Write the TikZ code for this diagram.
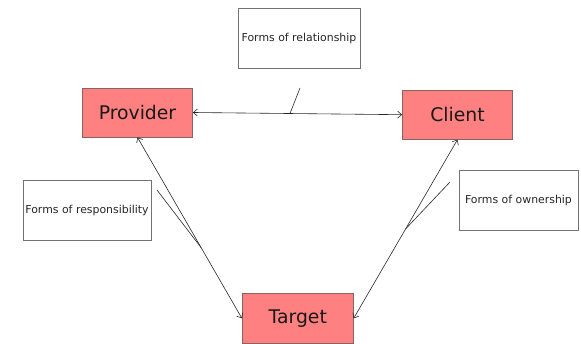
\documentclass[tikz,border=0pt]{standalone}
\usepackage{fontspec}
\setmainfont{DejaVu Sans}
\usetikzlibrary{arrows.meta}
\definecolor{rolefill}{RGB}{255,128,128}
\definecolor{roleedge}{RGB}{135,100,100}
\definecolor{linkgray}{RGB}{40,40,40}

\tikzset{
  role/.style={draw=roleedge, fill=rolefill, line width=0.8pt, minimum width=110pt, minimum height=49pt,
    inner sep=0pt, text=black!90, font=\fontsize{18.8}{22}\selectfont},
  notebox/.style={draw=black!55, line width=0.8pt, minimum height=60pt, inner sep=0pt,
    text=black!85, font=\fontsize{10.9}{13}\selectfont},
  link/.style={draw=linkgray, line width=0.6pt, {Straight Barb[length=4pt,width=7pt]}-{Straight Barb[length=4pt,width=7pt]}},
  tie/.style={draw=linkgray, line width=0.6pt}
}

\begin{document}
\begin{tikzpicture}[x=1pt, y=-1pt]
  \useasboundingbox (0,0) rectangle (581,344);

  \node[role] (provider) at (137.5, 112.5) {Provider};
  \node[role] (client) at (457.5, 114.7) {Client};
  \node[role, minimum width=111pt, minimum height=50pt] (target) at (297.8, 318.3) {Target};

  \node[notebox, minimum width=122pt] (relation) at (299, 38.5) {Forms of relationship};
  \node[notebox, minimum width=128pt] (respons) at (87, 210) {Forms of responsibility};
  \node[notebox, minimum width=119pt] (owner) at (518.5, 200) {Forms of ownership};

  \coordinate (reltop) at (300, 88);
  \coordinate (resptop) at (157, 190);
  \coordinate (owntop) at (450, 182);

  \draw[link] (provider.east) -- coordinate[pos=0.464] (relfoot) (client.west);
  \draw[link] (provider.south) -- coordinate[pos=0.61] (respfoot) (target.west);
  \draw[link] (client.south) -- coordinate[pos=0.5] (ownfoot) (target.east);

  % pointers from the notes
  \draw[tie] (reltop) -- (relfoot);
  \draw[tie] (resptop) -- (respfoot);
  \draw[tie] (owntop) -- (ownfoot);
\end{tikzpicture}
\end{document}
